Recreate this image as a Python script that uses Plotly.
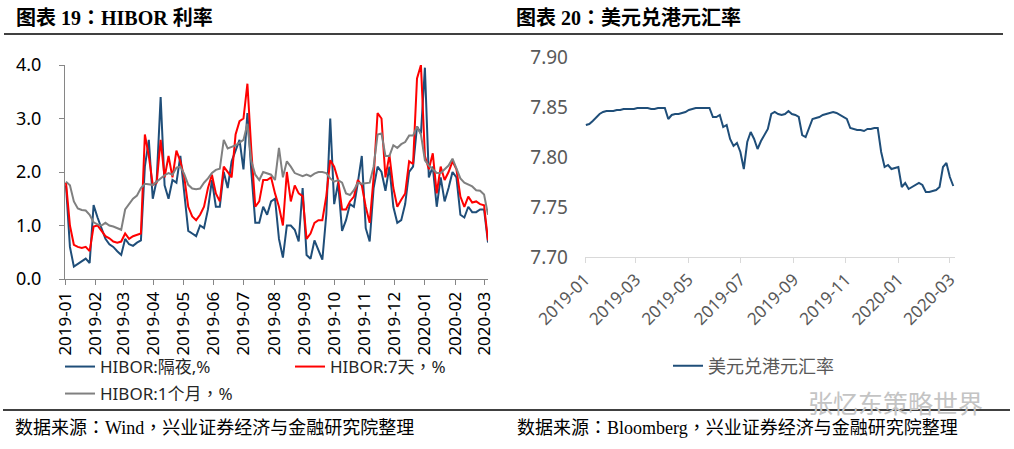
import pandas as pd
import plotly.graph_objects as go

# 4-day sampling of the daily series, 2019-01-02 .. 2020-03-05
dates = pd.date_range("2019-01-02", periods=108, freq="4D")

hibor_on = [
    1.75, 0.60, 0.23, 0.28, 0.33, 0.38, 0.30, 1.38, 1.15, 0.95,
    0.75, 0.65, 0.60, 0.52, 0.45, 0.75, 0.65, 0.62, 0.68, 0.72,
    2.10, 2.60, 1.50, 1.85, 3.40, 1.75, 1.50, 1.85, 1.80, 2.30,
    1.65, 0.90, 0.85, 0.80, 1.00, 0.95, 1.30, 1.85, 1.35, 1.35,
    2.00, 1.70, 2.20, 2.40, 2.60, 2.05, 3.10, 2.00, 1.05, 1.05,
    1.35, 1.20, 1.45, 1.50, 0.75, 0.40, 1.00, 1.00, 0.92, 0.70,
    1.70, 0.45, 0.38, 0.72, 0.55, 0.36, 1.20, 3.00, 1.40, 1.80,
    0.90, 1.10, 1.40, 1.35, 1.80, 2.30, 0.95, 0.70, 1.70, 2.10,
    2.00, 1.65, 2.10, 1.35, 1.05, 1.10, 1.40, 2.00, 2.10, 2.85,
    2.72, 3.95, 1.90, 2.10, 1.35, 1.90, 1.45, 1.70, 2.00, 1.90,
    1.20, 1.15, 1.35, 1.25, 1.25, 1.30, 1.30, 0.68,
]
hibor_7d = [
    1.80, 1.00, 0.64, 0.60, 0.58, 0.60, 0.52, 0.98, 1.00, 0.90,
    0.80, 0.76, 0.70, 0.68, 0.70, 0.85, 0.75, 0.80, 0.82, 0.85,
    2.70, 2.30, 1.76, 1.80, 2.60, 1.90, 2.30, 1.90, 2.40, 2.20,
    1.90, 1.35, 1.17, 1.10, 1.20, 1.35, 1.70, 1.95, 1.60, 1.45,
    2.10, 2.00, 1.90, 2.70, 2.95, 3.00, 3.65, 2.40, 1.35, 1.45,
    1.85, 1.85, 1.90, 1.60, 1.35, 1.00, 2.00, 1.45, 1.75, 1.60,
    1.55, 0.75, 0.85, 1.05, 1.10, 1.10, 1.55, 2.22, 2.10, 1.85,
    1.30, 1.30, 1.45, 1.54, 1.85, 1.75, 1.35, 1.05, 1.90, 3.10,
    3.00, 1.90, 2.32, 1.70, 1.35, 1.48, 1.60, 2.20, 2.15, 3.75,
    4.00, 2.30, 2.05, 2.35, 1.60, 2.10, 1.85, 2.00, 2.20, 2.05,
    1.54, 1.35, 1.54, 1.43, 1.45, 1.40, 1.38, 0.72,
]
hibor_1m = [
    1.82, 1.75, 1.45, 1.32, 1.29, 1.28, 1.20, 1.06, 1.02, 1.00,
    1.05, 1.00, 0.98, 0.95, 0.92, 1.30, 1.40, 1.50, 1.56, 1.70,
    1.78, 1.77, 1.76, 1.82, 1.88, 1.94, 1.98, 1.95, 2.08, 2.10,
    1.96, 1.76, 1.69, 1.68, 1.69, 1.80, 1.88, 1.98, 2.04, 2.06,
    2.60, 2.44, 2.47, 2.50, 2.55, 2.60, 2.90, 2.20, 1.95, 1.85,
    2.00, 1.98, 1.95, 1.85, 2.45, 1.90, 2.20, 2.10, 1.98, 1.95,
    1.92, 1.95, 1.92, 1.97, 2.00, 2.00, 1.98, 1.88, 1.82, 1.85,
    1.80, 1.60, 1.57, 1.66, 1.80, 1.78, 1.79, 1.80, 2.10, 2.70,
    2.72, 2.30, 2.30, 2.50, 2.45, 2.52, 2.56, 2.68, 2.68, 2.85,
    2.70, 2.22, 2.12, 2.05, 1.98, 1.98, 2.05, 2.12, 2.25, 2.05,
    1.88, 1.80, 1.76, 1.73, 1.66, 1.65, 1.58, 1.20,
]
usdhkd = [
    7.832, 7.833, 7.836, 7.840, 7.843, 7.845, 7.846, 7.846, 7.846, 7.847,
    7.847, 7.848, 7.848, 7.848, 7.848, 7.849, 7.849, 7.849, 7.849, 7.848,
    7.848, 7.849, 7.849, 7.849, 7.838, 7.842, 7.843, 7.843, 7.844, 7.845,
    7.847, 7.848, 7.849, 7.849, 7.849, 7.849, 7.849, 7.840, 7.840, 7.842,
    7.830, 7.832, 7.818, 7.811, 7.814, 7.805, 7.788, 7.815, 7.825, 7.818,
    7.808, 7.816, 7.822, 7.828, 7.843, 7.845, 7.843, 7.842, 7.843, 7.846,
    7.843, 7.842, 7.840, 7.822, 7.820, 7.830, 7.838, 7.839, 7.840, 7.842,
    7.843, 7.844, 7.845, 7.844, 7.842, 7.840, 7.838, 7.829, 7.828, 7.827,
    7.827, 7.826, 7.828, 7.828, 7.829, 7.829, 7.805, 7.790, 7.792, 7.788,
    7.789, 7.790, 7.770, 7.774, 7.768, 7.770, 7.772, 7.774, 7.772, 7.765,
    7.765, 7.766, 7.767, 7.770, 7.790, 7.794, 7.780, 7.771,
]

W, H = 1014, 449


def px(x):
    return x / W


def py(y):
    return 1 - y / H


fig = go.Figure()

fig.add_trace(go.Scatter(x=dates, y=hibor_on, name="HIBOR:隔夜,%", mode="lines",
                         line=dict(color="#1f4e79", width=2), legend="legend"))
fig.add_trace(go.Scatter(x=dates, y=hibor_7d, name="HIBOR:7天，%", mode="lines",
                         line=dict(color="#ff0000", width=2), legend="legend"))
fig.add_trace(go.Scatter(x=dates, y=hibor_1m, name="HIBOR:1个月，%", mode="lines",
                         line=dict(color="#808080", width=2), legend="legend2"))
fig.add_trace(go.Scatter(x=dates, y=usdhkd, name="美元兑港元汇率", mode="lines",
                         line=dict(color="#1f4e79", width=2), legend="legend3",
                         xaxis="x2", yaxis="y2"))

tick_font = dict(family="Noto Sans, DejaVu Sans", size=17, color="#000000")
gray_font = dict(family="Noto Sans, DejaVu Sans", size=17, color="#595959")
leg_font = dict(family="Noto Sans, Noto Sans CJK TC", size=17, color="#262626")

fig.update_layout(
    template="none",
    width=W, height=H,
    margin=dict(l=0, r=0, t=0, b=0, autoexpand=False),
    paper_bgcolor="white", plot_bgcolor="white",
    xaxis=dict(domain=[px(65), px(488)], type="date",
               range=["2019-01-01", "2020-03-05"],
               tick0="2019-01-01", dtick="M1", tickformat="%Y-%m",
               tickangle=-90, tickfont=tick_font, automargin=False,
               showgrid=False, showline=True, linecolor="#868686", linewidth=1,
               ticks="outside", ticklen=5, tickcolor="#868686", zeroline=False),
    yaxis=dict(domain=[py(279), py(65)], range=[0, 4], dtick=1, tickformat=".1f",
               tickfont=dict(family="Noto Sans, DejaVu Sans", size=18, color="#000000"),
               showgrid=False, showline=True, linecolor="#868686", linewidth=1,
               ticks="outside", ticklen=5, tickcolor="#868686", zeroline=False,
               ticklabelstandoff=14, automargin=False),
    xaxis2=dict(domain=[px(585), px(955)], type="date", anchor="y2",
                range=["2019-01-01", "2020-03-07"],
                tick0="2019-01-01", dtick="M2", tickformat="%Y-%m",
                tickangle=-45, tickfont=gray_font, automargin=False,
                showgrid=False, showline=True, linecolor="#d9d9d9", linewidth=1,
                ticks="outside", ticklen=5, tickcolor="#d9d9d9", zeroline=False),
    yaxis2=dict(domain=[py(257), py(57)], anchor="x2", range=[7.70, 7.90], dtick=0.05,
                tickformat=".2f", tickfont=dict(family="Noto Sans, DejaVu Sans", size=19, color="#595959"),
                showgrid=False, showline=False, ticks="", zeroline=False,
                ticklabelstandoff=16, automargin=False),
    legend=dict(orientation="h", x=px(60), y=py(367), xanchor="left", yanchor="middle",
                entrywidth=185, font=leg_font, bgcolor="rgba(0,0,0,0)"),
    legend2=dict(orientation="h", x=px(60), y=py(394), xanchor="left", yanchor="middle",
                 font=leg_font, bgcolor="rgba(0,0,0,0)"),
    legend3=dict(orientation="h", x=px(668), y=py(366), xanchor="left", yanchor="middle",
                 font=dict(family="Noto Sans CJK SC", size=18, color="#595959"),
                 bgcolor="rgba(0,0,0,0)"),
    showlegend=True,
)

title_font = dict(family="Liberation Serif, Noto Sans CJK TC", size=20, color="#000000")
src_font = dict(family="Liberation Serif, Noto Sans CJK TC", size=18, color="#000000")

fig.add_annotation(text="<b>图表 19：HIBOR 利率</b>", x=px(14), y=py(18), xref="paper", yref="paper",
                   xanchor="left", yanchor="middle", showarrow=False, font=title_font)
fig.add_annotation(text="<b>图表 20：美元兑港元汇率</b>", x=px(514), y=py(18), xref="paper", yref="paper",
                   xanchor="left", yanchor="middle", showarrow=False, font=title_font)
fig.add_annotation(text="数据来源：Wind，兴业证券经济与金融研究院整理", x=px(13), y=py(428),
                   xref="paper", yref="paper", xanchor="left", yanchor="middle",
                   showarrow=False, font=src_font)
fig.add_annotation(text="数据来源：Bloomberg，兴业证券经济与金融研究院整理", x=px(515), y=py(428),
                   xref="paper", yref="paper", xanchor="left", yanchor="middle",
                   showarrow=False, font=src_font)
# watermark
fig.add_annotation(text="张忆东策略世界", x=px(806), y=py(402), xref="paper", yref="paper",
                   xanchor="left", yanchor="middle", showarrow=False,
                   font=dict(family="Noto Sans CJK SC", size=25, color="#c4c4c4"))

# rules under the titles and above the sources
fig.add_shape(type="line", xref="paper", yref="paper", x0=px(4), x1=px(1003), y0=py(34), y1=py(34),
              line=dict(color="#000000", width=1.5))
fig.add_shape(type="line", xref="paper", yref="paper", x0=px(3), x1=px(1010), y0=py(410), y1=py(410),
              line=dict(color="#000000", width=1.5))

fig.write_html("out.html", config={"displayModeBar": False},
               post_script="document.body.style.margin='0';")
